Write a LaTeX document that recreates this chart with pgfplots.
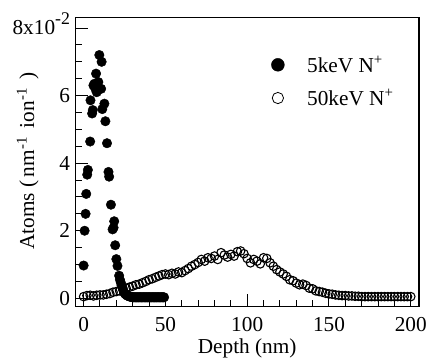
\documentclass[border=0pt]{standalone}
\usepackage{fontspec}
\setmainfont{Liberation Serif}
\usepackage{pgfplots}
\pgfplotsset{compat=1.18}
\begin{document}
\begin{tikzpicture}
\begin{axis}[
  name=ax,
  scale only axis, width=346bp, height=291bp,
  xmin=-5, xmax=205, ymin=-0.25, ymax=8.3,
  xtick={0,50,100,150,200}, minor x tick num=4,
  ytick={0,2,4,6,8},
  yticklabels={0,2,4,6,{8x10\smash{\raisebox{0.5em}{\fontsize{18}{18}\selectfont -2}}}},
  minor y tick num=3,
  tick align=inside, tick pos=left,
  major tick length=13bp, minor tick length=7bp,
  axis line style={line width=1.2bp},
  every tick/.style={line width=1bp, black},
  /pgf/number format/assume math mode=true,
  tick label style={font=\fontsize{21.5}{24}\selectfont},
  xticklabel style={yshift=-7bp},
  yticklabel style={xshift=-2bp},
  label style={font=\fontsize{21.5}{24}\selectfont},
  xlabel={Depth (nm)},
  ylabel={Atoms (\,nm\textsuperscript{-1}\, ion\textsuperscript{-1}\, )},
  xlabel style={at={(axis description cs:0.5,-0.110)}, anchor=north, inner sep=0pt},
  ylabel style={at={(axis description cs:-0.139,0.505)}, anchor=center, inner sep=0pt},
  legend style={at={(0.57,0.875)}, anchor=north west, draw=none, fill=none,
    font=\fontsize{21.5}{24}\selectfont, row sep=12bp, inner sep=0pt,
    /tikz/every odd column/.append style={column sep=21bp}},
  legend cell align=left,
]
\addlegendimage{only marks, mark=*, mark size=6.5bp, black}
\addlegendentry{5keV N\textsuperscript{+}}
\addlegendimage{only marks, mark=o, mark size=5.7bp, line width=0.8bp, black}
\addlegendentry{50keV N\textsuperscript{+}}

% 50 keV (open circles)
\addplot[only marks, mark=o, mark size=4.3bp, mark options={line width=1.1bp}, black, forget plot] coordinates {
(0,0.05)(2,0.08)(4,0.09)(6,0.07)(8,0.09)(10,0.10)(12,0.10)(14,0.12)(16,0.14)(18,0.18)
(20,0.20)(22,0.22)(24,0.27)(26,0.30)(28,0.33)(30,0.36)(32,0.40)(34,0.42)(36,0.46)(38,0.50)
(40,0.55)(42,0.58)(44,0.62)(46,0.66)(48,0.70)(50,0.72)(52,0.70)(54,0.74)(56,0.72)(58,0.78)
(60,0.76)(62,0.82)(64,0.88)(66,0.95)(68,1.00)(70,1.06)(72,1.15)(74,1.10)(76,1.20)(78,1.18)
(80,1.25)(82,1.15)(84,1.35)(86,1.28)(88,1.22)(90,1.30)(92,1.25)(94,1.38)(96,1.40)(98,1.32)
(100,1.18)(102,1.05)(104,1.15)(106,1.10)(108,1.02)(110,1.20)(112,1.18)(114,1.05)(116,0.95)(118,0.85)
(120,0.78)(122,0.72)(124,0.65)(126,0.55)(128,0.52)(130,0.45)(132,0.40)(134,0.42)(136,0.38)(138,0.30)
(140,0.28)(142,0.22)(144,0.20)(146,0.18)(148,0.15)(150,0.13)(152,0.12)(154,0.10)(156,0.09)(158,0.08)
(160,0.08)(162,0.07)(164,0.07)(166,0.06)(168,0.06)(170,0.05)(172,0.05)(174,0.05)(176,0.05)(178,0.05)
(180,0.05)(182,0.05)(184,0.05)(186,0.05)(188,0.05)(190,0.05)(192,0.05)(194,0.05)(196,0.05)(198,0.05)(200,0.05)
};

% 5 keV (filled circles)
\addplot[only marks, mark=*, mark size=4.8bp, black, forget plot] coordinates {
(0,0.97)(0.6,2.0)(1.2,2.5)(1.6,3.09)(2.2,3.66)(2.6,3.8)(4.0,4.64)(4.2,5.86)(5.2,5.47)(5.6,5.57)
(6.0,6.3)(6.6,6.35)(7.6,6.65)(7.2,6.2)(8.0,6.1)(9.0,6.4)(9.6,7.2)(11.0,7.0)(10.7,6.2)(11.4,5.6)
(12.7,5.76)(13.3,5.24)(14.3,4.59)(15.2,3.74)(15.6,3.6)(16.7,2.77)(17.7,2.04)(18.3,2.09)(18.7,2.28)(19.3,1.57)
(20.0,1.16)(20.7,0.96)(21.7,0.67)(22.2,0.55)(22.7,0.47)(23.2,0.38)(23.7,0.32)(24.2,0.24)(24.7,0.18)(25.2,0.14)
(25.7,0.12)(26.2,0.10)(26.7,0.08)(27.2,0.07)(27.7,0.06)(28.2,0.05)(28.7,0.05)(29.2,0.04)(29.7,0.04)(30.2,0.03)
(30.7,0.03)(31.2,0.03)(31.7,0.03)(32.2,0.03)(32.7,0.03)(33.2,0.03)(33.7,0.03)(34.2,0.03)(34.7,0.03)(35.2,0.03)
(35.7,0.03)(36.2,0.03)(36.7,0.03)(37.2,0.03)(37.7,0.03)(38.2,0.03)(38.7,0.03)(39.2,0.03)(39.7,0.03)(40.2,0.03)
(40.7,0.03)(41.2,0.03)(41.7,0.03)(42.2,0.03)(42.7,0.03)(43.2,0.03)(43.7,0.03)(44.2,0.03)(44.7,0.03)(45.2,0.03)
(45.7,0.03)(46.2,0.03)(46.7,0.03)(47.2,0.03)(47.7,0.03)(48.2,0.03)(48.7,0.03)(49.2,0.03)
};
\end{axis}
\path ([shift={(-76bp,-52bp)}]ax.south west) rectangle ([shift={(8bp,18bp)}]ax.north east);
\end{tikzpicture}
\end{document}
